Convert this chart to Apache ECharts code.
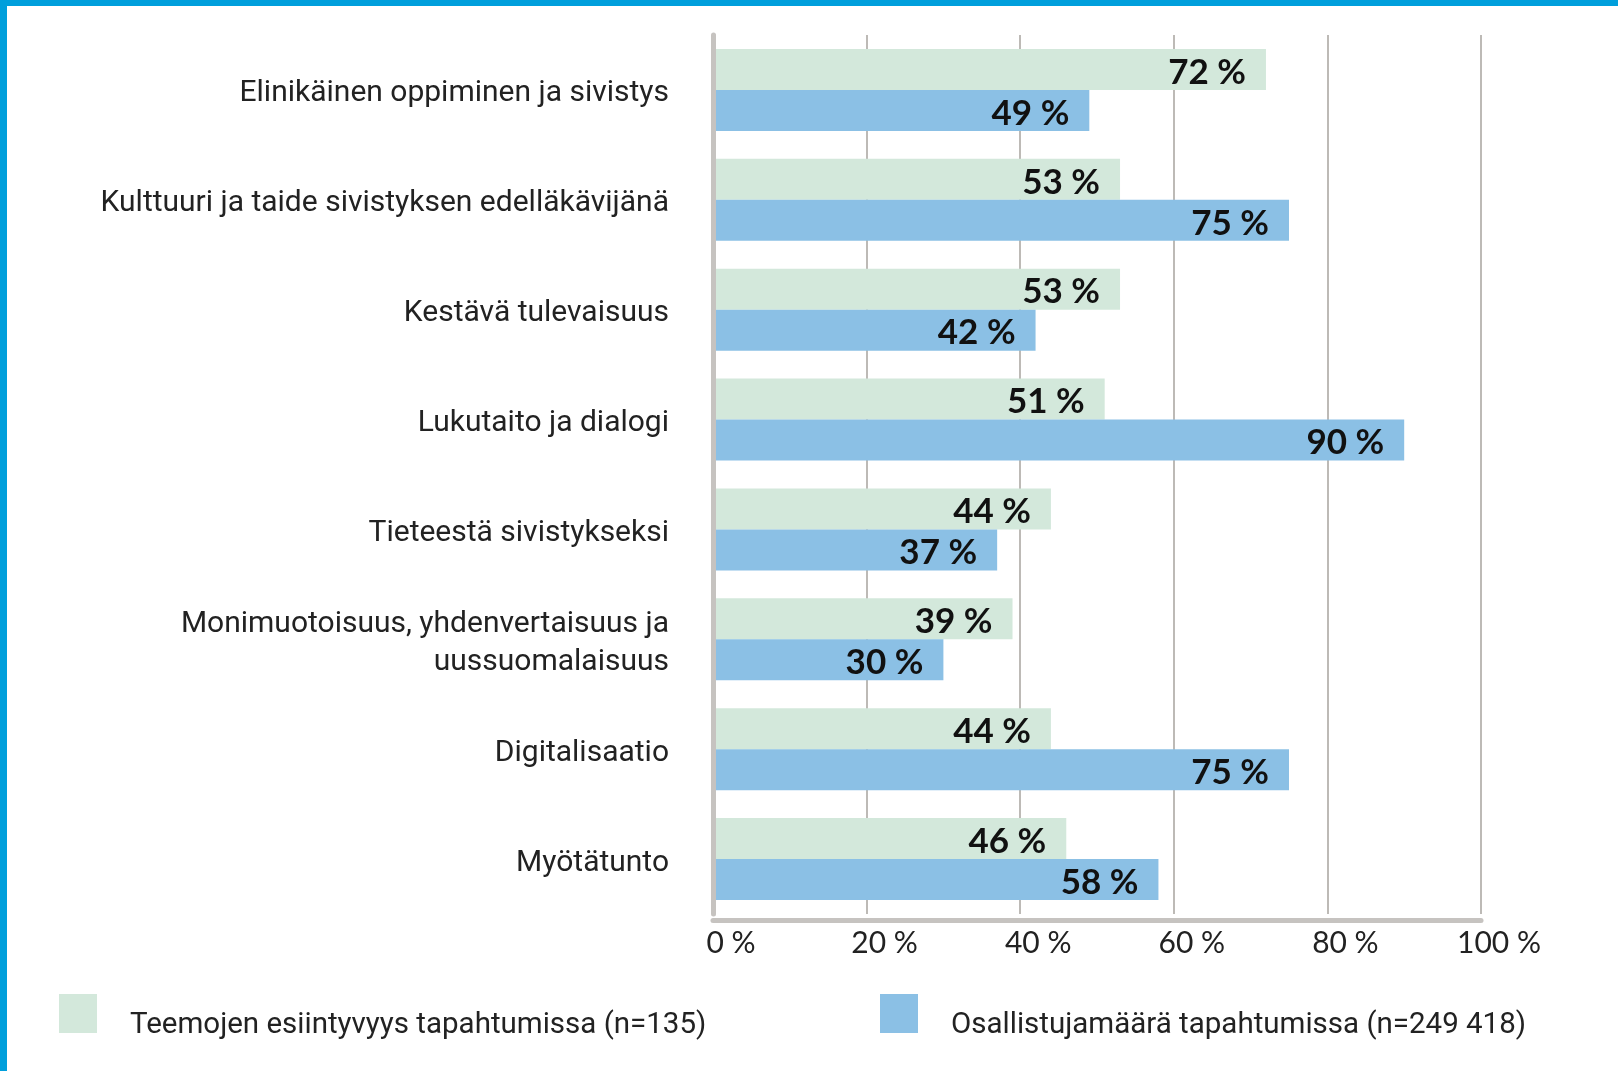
<!DOCTYPE html>
<html>
<head>
<meta charset="utf-8">
<script src="https://cdn.jsdelivr.net/npm/echarts@6/dist/echarts.min.js"></script>
<style>
  html, body { margin: 0; padding: 0; background: #fff; }
  #chart { width: 1618px; height: 1071px; }
</style>
</head>
<body>
<div id="chart"></div>
<script>
// data
const categories = [
  "Elinikäinen oppiminen ja sivistys",
  "Kulttuuri ja taide sivistyksen edelläkävijänä",
  "Kestävä tulevaisuus",
  "Lukutaito ja dialogi",
  "Tieteestä sivistykseksi",
  "Monimuotoisuus, yhdenvertaisuus ja\nuussuomalaisuus",
  "Digitalisaatio",
  "Myötätunto"
];
const seriesNames = [
  "Teemojen esiintyvyys tapahtumissa (n=135)",
  "Osallistujamäärä tapahtumissa (n=249 418)"
];
const themeShare = [72, 53, 53, 51, 44, 39, 44, 46];
const participantShare = [49, 75, 42, 90, 37, 30, 75, 58];
const xTicks = [0, 20, 40, 60, 80, 100];

const GREEN = "#d3e8db";
const BLUE = "#8bc0e5";
const FRAME = "#009fdc";

var dom = document.getElementById("chart");
var myChart = echarts.init(dom, null, { renderer: "canvas" });

var valueLabel = {
  show: true,
  position: "insideRight",
  distance: 20,
  formatter: function (p) {
    return p.value + " %";
  },
  color: "#111",
  fontFamily: "Lato",
  fontWeight: "bold",
  fontSize: 35,
  offset: [0, 3]
};

function legendFor(name, left) {
  return {
    data: [name],
    left: left,
    top: 994,
    padding: 0,
    icon: "rect",
    itemWidth: 38,
    itemHeight: 39,
    selectedMode: false,
    formatter: function (n) {
      return "{t|" + n + "}";
    },
    textStyle: {
      rich: {
        t: {
          fontFamily: "Roboto",
          fontSize: 29.5,
          color: "#222",
          padding: [24, 0, 0, 28]
        }
      }
    }
  };
}

var option = {
  animation: false,
  backgroundColor: "#fff",
  graphic: [
    { type: "rect", left: 0, top: 0, shape: { width: 1618, height: 6 }, style: { fill: FRAME } },
    { type: "rect", left: 0, top: 0, shape: { width: 7, height: 1071 }, style: { fill: FRAME } }
  ],
  legend: [legendFor(seriesNames[0], 59), legendFor(seriesNames[1], 880)],
  grid: {
    left: 713,
    right: 137,
    top: 35,
    bottom: 157,
    containLabel: false
  },
  xAxis: {
    type: "value",
    min: xTicks[0],
    max: xTicks[xTicks.length - 1],
    interval: 20,
    offset: 6,
    axisLine: { show: true, lineStyle: { color: "#c6c3c0", width: 5 } },
    axisTick: { show: false },
    splitLine: { show: true, lineStyle: { color: "#bdbab6", width: 2 } },
    axisLabel: {
      margin: 8,
      align: "center",
      padding: [0, 0, 0, 36],
      fontFamily: "Lato",
      fontSize: 30,
      color: "#222",
      formatter: function (v) {
        return v + " %";
      }
    }
  },
  yAxis: {
    type: "category",
    data: categories,
    inverse: true,
    z: 10,
    axisLine: { show: true, lineStyle: { color: "#c6c3c0", width: 5 } },
    axisTick: { show: false },
    axisLabel: {
      margin: 44,
      align: "right",
      formatter: function (v) {
        return v
          .split("\n")
          .map(function (s) {
            return "{c|" + s + "}";
          })
          .join("\n");
      },
      rich: {
        c: {
          fontFamily: "Roboto",
          fontSize: 30,
          lineHeight: 38,
          color: "#222",
          padding: [8, 0, 0, 0]
        }
      }
    }
  },
  series: [
    {
      name: seriesNames[0],
      type: "bar",
      data: themeShare,
      barWidth: 41,
      barGap: "0%",
      itemStyle: { color: GREEN },
      label: valueLabel
    },
    {
      name: seriesNames[1],
      type: "bar",
      data: participantShare,
      barWidth: 41,
      barGap: "0%",
      itemStyle: { color: BLUE },
      label: valueLabel
    }
  ]
};

myChart.setOption(option);
</script>
</body>
</html>
